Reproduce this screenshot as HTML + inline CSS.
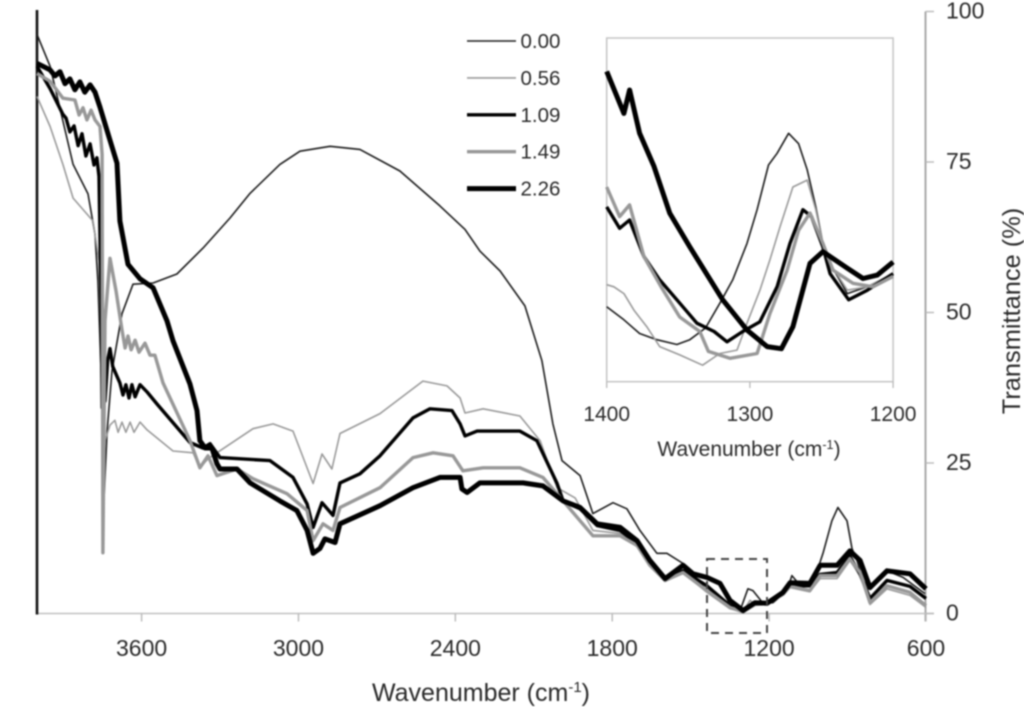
<!DOCTYPE html>
<html lang="en">
<head>
<meta charset="utf-8">
<title>Transmittance spectra</title>
<style>
html,body{margin:0;padding:0;background:#fff;width:1024px;height:707px;overflow:hidden}
svg{display:block;filter:blur(0.7px)}
text{font-family:"Liberation Sans",sans-serif;fill:#2a2a2a}
</style>
</head>
<body>
<svg id="chart" xmlns="http://www.w3.org/2000/svg" width="1024" height="707" viewBox="0 0 1024 707">
  <rect width="1024" height="707" fill="#fff"/>
  <g id="main-plot"></g>
  <g id="inset-plot"></g>
  <rect x="707" y="559" width="60" height="74" fill="none" stroke="#444" stroke-width="2" stroke-dasharray="8 6"/>
  <text x="481" y="701" font-size="25" text-anchor="middle">Wavenumber (cm<tspan dy="-9" font-size="15">-1</tspan><tspan dy="9">)</tspan></text>
  <text transform="translate(1020,311) rotate(-90)" font-size="25.4" text-anchor="middle">Transmittance (%)</text>
  <text x="749" y="456" font-size="21" text-anchor="middle">Wavenumber (cm<tspan dy="-7" font-size="12.6">-1</tspan><tspan dy="7">)</tspan></text>
  <g id="legend"></g>
</svg>
<script>
// Main spectrum: wavenumber (cm-1) and transmittance (%) per loading
const wn000 = [4000,3950,3862,3805,3778,3767,3751,3744,3732,3713,3675,3633,3556,3465,3365,3262,3185,3071,2994,2879,2765,2612,2459,2363,2306,2229,2134,2069,2027,1992,1923,1874,1797,1744,1694,1629,1591,1529,1438,1376,1311,1281,1262,1223,1185,1132,1113,1090,1032,994,960,937,902,883,864,841,814,749,688,604];
const t000 = [96.2,90.9,74.6,69.7,63.0,55.2,35.3,18.7,30.3,40.3,49.8,54.7,54.9,56.4,60.7,65.7,69.8,74.6,76.8,77.6,77.1,73.5,67.7,63.8,60.2,56.9,51.1,42.0,31.5,25.4,22.9,16.6,18.4,17.4,13.8,10.0,10.0,8.3,3.8,1.8,0.5,4.1,3.8,1.7,1.8,3.8,6.3,5.1,5.0,10.0,15.4,17.6,15.4,10.8,8.8,5.5,4.1,7.1,6.0,3.3];

const wn056 = [4000,3950,3901,3862,3786,3763,3751,3748,3740,3721,3702,3690,3675,3660,3644,3629,3606,3579,3480,3403,3377,3346,3312,3174,3097,3021,2944,2910,2872,2841,2688,2524,2432,2382,2363,2294,2153,2076,2011,1942,1874,1770,1705,1656,1598,1529,1438,1350,1300,1273,1254,1208,1147,1120,1044,1005,940,891,852,814,749,661,600];
const t056 = [85.9,80.9,74.6,69.0,65.2,58.5,35.3,10.1,28.7,31.3,32.1,30.1,31.8,30.1,31.8,30.1,31.8,30.5,27.0,26.7,24.2,25.7,26.7,30.7,31.5,30.3,21.6,26.5,24.0,29.9,33.2,38.6,37.8,35.8,33.3,34.0,32.8,28.7,20.9,19.2,13.8,13.3,11.1,8.0,5.8,6.8,3.5,0.8,0.3,2.2,1.5,1.7,3.0,4.3,3.6,5.8,5.8,8.8,6.3,1.5,4.1,3.0,1.0];

const wn109 = [4000,3950,3901,3889,3874,3858,3843,3828,3813,3797,3782,3771,3763,3755,3751,3740,3730,3721,3710,3695,3683,3671,3660,3648,3637,3625,3606,3579,3541,3415,3365,3338,3300,3109,3021,2967,2944,2910,2868,2841,2765,2688,2562,2497,2413,2382,2363,2317,2153,2088,2011,1988,1923,1858,1770,1705,1656,1598,1529,1438,1350,1300,1254,1208,1147,1120,1044,1005,940,891,852,814,749,661,600];
const t109 = [90.9,87.2,82.9,82.3,80.0,81.0,77.7,79.7,76.0,78.0,74.5,75.7,72.6,51.9,34.2,35.3,42.0,44.0,41.0,39.5,38.3,36.3,38.0,35.8,38.0,36.0,38.0,36.8,34.8,28.4,27.5,28.2,25.9,25.4,22.6,18.2,14.3,18.4,16.3,21.7,23.2,26.2,32.5,34.0,33.7,31.5,29.5,30.3,30.3,28.7,21.6,18.7,17.4,14.6,13.8,11.6,8.3,5.5,7.1,4.6,1.3,0.3,1.7,1.7,3.3,4.6,4.6,6.5,6.8,9.5,6.5,2.5,5.5,4.5,2.5];

const wn149 = [4000,3950,3901,3855,3839,3824,3809,3793,3778,3759,3751,3748,3740,3721,3698,3675,3663,3652,3640,3625,3610,3587,3568,3549,3518,3415,3377,3346,3312,3235,3174,3044,2967,2944,2906,2868,2841,2688,2562,2485,2409,2371,2294,2153,2065,1988,1874,1770,1705,1656,1598,1529,1438,1350,1300,1254,1208,1147,1120,1044,1005,940,891,852,814,749,661,600];
const t149 = [89.7,88.4,85.6,85.3,82.8,84.0,82.0,83.6,82.0,80.9,76.3,10.1,48.6,59.0,53.6,47.1,44.1,46.1,43.8,45.4,43.4,44.9,42.9,42.9,38.3,28.7,24.2,26.2,22.9,24.0,22.4,19.9,17.1,12.1,14.9,13.8,17.6,20.9,25.9,26.7,26.2,23.7,24.2,24.2,22.6,18.7,12.9,12.9,11.3,8.0,5.5,6.8,3.8,1.0,0.3,1.5,1.7,3.2,4.5,3.8,6.3,6.3,9.1,6.8,1.8,4.6,3.5,1.3];

const wn226 = [4000,3950,3931,3912,3893,3874,3855,3836,3817,3797,3778,3759,3725,3694,3683,3652,3606,3556,3503,3480,3415,3388,3377,3357,3331,3312,3300,3235,3185,3071,3006,2967,2944,2918,2899,2860,2841,2688,2562,2459,2382,2375,2355,2306,2141,2065,1988,1923,1858,1770,1705,1656,1598,1529,1491,1438,1388,1350,1300,1254,1208,1147,1120,1044,1005,940,891,852,814,749,661,600];
const t226 = [91.4,90.3,89.3,90.0,88.0,88.8,87.0,88.3,86.6,87.8,86.6,84.1,79.2,74.8,65.2,58.0,55.6,54.1,48.6,45.3,38.1,33.7,28.7,27.5,27.5,24.9,24.0,24.0,21.7,18.7,17.1,13.8,10.0,10.8,12.4,11.8,14.9,17.9,20.9,22.6,22.6,20.7,20.1,21.7,21.7,21.2,18.7,17.6,14.9,14.3,12.1,8.8,5.8,8.0,6.6,6.0,5.0,2.2,0.5,1.8,1.7,3.5,5.1,5.0,8.0,8.0,10.4,8.8,4.3,7.1,6.6,4.1];

// Inset spectrum, 1400-1200 cm-1
const insetWn000 = [1400,1388,1377,1365,1351,1342,1331,1321,1312,1302,1295,1287,1281,1273,1266,1260,1254,1249,1244,1232,1218,1200];
const insetT000 = [1.09,0.90,0.70,0.61,0.54,0.61,0.78,1.14,1.48,2.01,2.50,3.15,3.32,3.61,3.46,3.08,2.54,2.01,1.72,1.28,1.38,1.57];
const insetWn056 = [1400,1395,1388,1381,1372,1363,1349,1333,1321,1309,1302,1293,1286,1279,1270,1260,1254,1249,1244,1232,1218,1200];
const insetT056 = [1.41,1.38,1.28,1.04,0.80,0.51,0.39,0.24,0.41,0.46,0.85,1.33,1.77,2.25,2.83,2.93,2.50,2.01,1.72,1.33,1.38,1.57];
const insetWn109 = [1400,1391,1384,1374,1363,1351,1337,1325,1316,1305,1293,1281,1272,1263,1257,1249,1244,1231,1218,1200];
const insetT109 = [2.54,2.23,2.35,1.82,1.48,1.19,0.85,0.73,0.58,0.73,0.87,1.38,2.01,2.50,2.40,1.96,1.57,1.19,1.33,1.57];
const insetWn149 = [1400,1391,1384,1374,1362,1349,1335,1329,1314,1295,1286,1274,1266,1258,1249,1242,1228,1214,1200];
const insetT149 = [2.83,2.40,2.57,1.82,1.38,0.94,0.73,0.44,0.34,0.41,0.99,1.62,2.20,2.45,2.01,1.62,1.43,1.38,1.53];
const insetWn226 = [1400,1388,1384,1377,1367,1356,1342,1319,1302,1288,1278,1270,1258,1249,1232,1221,1211,1200];
const insetT226 = [4.51,3.90,4.24,3.61,3.13,2.45,1.96,1.19,0.75,0.51,0.48,0.80,1.72,1.89,1.65,1.50,1.55,1.74];

const xTicks = [3600,3000,2400,1800,1200,600];
const yTicks = [100,75,50,25,0];
const insetXTicks = [1400,1300,1200];
const legendLabels = ['0.00','0.56','1.09','1.49','2.26'];
const seriesColors = ['#1c1c1c','#9a9a9a','#000000','#989898','#000000'];
const seriesWidths = [1.6,1.6,3.4,3.4,5];

const NS = 'http://www.w3.org/2000/svg';
function xMain(w){return 37 + (4000 - w) * 0.26147;}
function yMain(t){return 613.5 - t * 6.02;}
function xInset(w){return 606.7 + (1400 - w) * 1.432;}
function yInset(t){return 381.7 - t * 68.8;}

function mk(parent, tag, props, txt){
  const el = document.createElementNS(NS, tag);
  for (const k in props) el.setAttribute(k, props[k]);
  if (txt !== undefined) el.textContent = txt;
  parent.appendChild(el);
  return el;
}
function pointsOf(wn, t, fx, fy){
  return wn.map((w,i)=>fx(w).toFixed(1)+','+fy(t[i]).toFixed(1)).join(' ');
}

const mainG = document.getElementById('main-plot');
const insetG = document.getElementById('inset-plot');
const legendG = document.getElementById('legend');

// main axes
let a = mk(mainG,'line',{x1:925.5,y1:yMain(100),x2:925.5,y2:yMain(0)+8,stroke:'#a8a8a8','stroke-width':2});


a = mk(mainG,'line',{x1:37,y1:yMain(0),x2:934,y2:yMain(0),stroke:'#c0c0c0','stroke-width':1.6});


a = mk(mainG,'line',{x1:37,y1:10,x2:37,y2:yMain(0)+1,stroke:'#111','stroke-width':2.6});



xTicks.forEach(function(v){
  const tk = mk(mainG,'line',{x1:xMain(v),y1:yMain(0),x2:xMain(v),y2:yMain(0)+8,stroke:'#b8b8b8','stroke-width':1.4});
  
  
  const lb = mk(mainG,'text',{x:xMain(v),y:656,'font-size':23,'text-anchor':'middle'},String(v));
  
  
});
yTicks.forEach(function(v){
  const tk = mk(mainG,'line',{x1:925.5,y1:yMain(v),x2:934,y2:yMain(v),stroke:'#b8b8b8','stroke-width':1.4});
  
  
  const lb = mk(mainG,'text',{x:946,y:yMain(v)+7,'font-size':23},String(v));
  
  
});

// main series
const mainWn = [wn000,wn056,wn109,wn149,wn226];
const mainT = [t000,t056,t109,t149,t226];
mainWn.forEach(function(wn,i){
  const p = mk(mainG,'polyline',{points:pointsOf(wn,mainT[i],xMain,yMain),fill:'none',stroke:seriesColors[i],'stroke-width':seriesWidths[i],'stroke-linejoin':'round'});
  
  
});

// inset frame
const frame = mk(insetG,'rect',{x:606.7,y:38,width:286.4,height:343.7,fill:'#fff',stroke:'#c4c4c4','stroke-width':1.5});


insetXTicks.forEach(function(v){
  const tk = mk(insetG,'line',{x1:xInset(v),y1:381.7,x2:xInset(v),y2:388,stroke:'#b8b8b8','stroke-width':1.3});
  
  
  const lb = mk(insetG,'text',{x:xInset(v),y:421,'font-size':21,'text-anchor':'middle'},String(v));
  
  
});
const insetWn = [insetWn000,insetWn056,insetWn109,insetWn149,insetWn226];
const insetT = [insetT000,insetT056,insetT109,insetT149,insetT226];
insetWn.forEach(function(wn,i){
  const p = mk(insetG,'polyline',{points:pointsOf(wn,insetT[i],xInset,yInset),fill:'none',stroke:seriesColors[i],'stroke-width':seriesWidths[i],'stroke-linejoin':'round'});
  
  
});

// legend
legendLabels.forEach(function(txt,i){
  const yy = 41 + i * 36.9;
  const ln = mk(legendG,'line',{x1:467,y1:yy,x2:516,y2:yy,stroke:seriesColors[i],'stroke-width':seriesWidths[i]});
  
  
  const lb = mk(legendG,'text',{x:520.5,y:yy+7,'font-size':20.5},txt);
  
  
});
</script>
</body>
</html>
